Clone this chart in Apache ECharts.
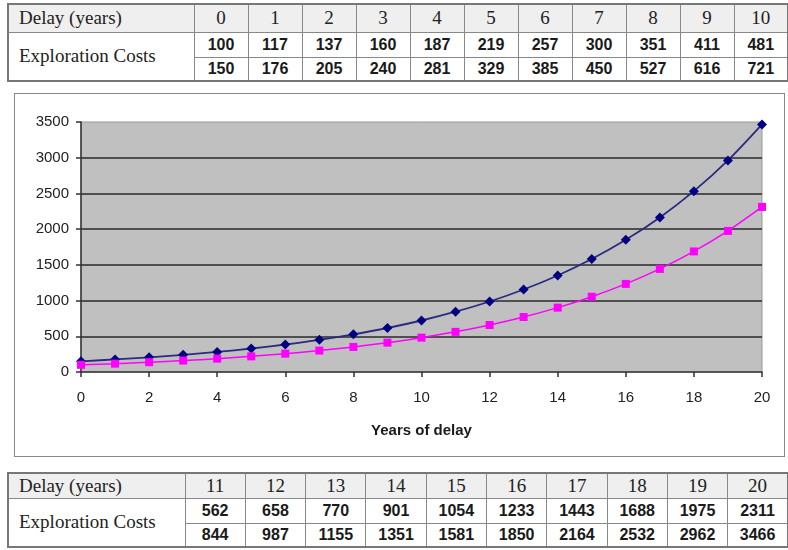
<!DOCTYPE html>
<html>
<head>
<meta charset="utf-8">
<script src="https://cdn.jsdelivr.net/npm/echarts@6/dist/echarts.min.js"></script>
<style>
  html, body { margin: 0; padding: 0; background: #fff; }
  body { width: 788px; height: 550px; position: relative; overflow: hidden; }
  table.costs {
    position: absolute; left: 7px; border-collapse: collapse; table-layout: fixed;
    border: 2px solid #777;
  }
  table.costs td {
    border: 1.5px solid #888; padding: 0; text-align: center;
    font-family: "Liberation Sans", Arial, sans-serif; font-weight: bold; font-size: 16px; color: #1a1a1a;
  }
  table.costs tr.head td {
    background: #efefef; font-family: "Liberation Serif", "Times New Roman", serif;
    font-weight: normal; font-size: 19px; color: #222;
  }
  table.costs td.lab {
    text-align: left; padding-left: 10px;
    font-family: "Liberation Serif", "Times New Roman", serif; font-weight: normal; font-size: 19px; color: #222;
  }
  #box { position: absolute; left: 14px; top: 93px; width: 769px; height: 362px; border: 1.5px solid #888; }
  #chart { width: 769px; height: 362px; }
</style>
</head>
<body>
<table class="costs" id="topTable" style="top:3px; width:780px;"></table>
<div id="box"><div id="chart"></div></div>
<table class="costs" id="bottomTable" style="top:472px; width:780px;"></table>
<script>
// Delay in years (x-axis categories / table headers)
const delayYears = [0, 1, 2, 3, 4, 5, 6, 7, 8, 9, 10, 11, 12, 13, 14, 15, 16, 17, 18, 19, 20];
// Exploration costs, lower scenario (magenta squares)
const costsLow = [100, 117, 137, 160, 187, 219, 257, 300, 351, 411, 481, 562, 658, 770, 901, 1054, 1233, 1443, 1688, 1975, 2311];
// Exploration costs, higher scenario (navy diamonds)
const costsHigh = [150, 176, 205, 240, 281, 329, 385, 450, 527, 616, 721, 844, 987, 1155, 1351, 1581, 1850, 2164, 2532, 2962, 3466];
// Axis tick settings
const yTicks = [0, 500, 1000, 1500, 2000, 2500, 3000, 3500];
const xTicks = [0, 2, 4, 6, 8, 10, 12, 14, 16, 18, 20];

function buildTable(id, from, to, firstW, colW, heights) {
  const t = document.getElementById(id);
  let html = '<colgroup><col style="width:' + firstW + 'px">';
  for (let i = from; i <= to; i++) html += '<col style="width:' + colW + 'px">';
  html += '</colgroup>';
  html += '<tr class="head" style="height:' + heights[0] + 'px"><td class="lab">Delay (years)</td>';
  for (let i = from; i <= to; i++) html += '<td>' + delayYears[i] + '</td>';
  html += '</tr><tr style="height:' + heights[1] + 'px"><td class="lab" rowspan="2">Exploration Costs</td>';
  for (let i = from; i <= to; i++) html += '<td>' + costsLow[i] + '</td>';
  html += '</tr><tr style="height:' + heights[2] + 'px">';
  for (let i = from; i <= to; i++) html += '<td>' + costsHigh[i] + '</td>';
  html += '</tr>';
  t.innerHTML = html;
}
buildTable('topTable', 0, 10, 186, 54, [28, 25, 24]);
buildTable('bottomTable', 11, 20, 177, 60.3, [25, 25, 24]);

const chart = echarts.init(document.getElementById('chart'), null, { renderer: 'canvas' });
const axisFont = { fontFamily: '"Liberation Sans", Arial, sans-serif', fontSize: 15, color: '#222' };
chart.setOption({
  animation: false,
  grid: {
    left: 66, top: 28, right: 22, bottom: 84,
    show: true, backgroundColor: '#c0c0c0', borderColor: '#999', borderWidth: 1
  },
  xAxis: {
    type: 'value', min: xTicks[0], max: xTicks[xTicks.length - 1], interval: 2,
    name: 'Years of delay', nameLocation: 'middle', nameGap: 51,
    nameTextStyle: { fontFamily: '"Liberation Sans", Arial, sans-serif', fontSize: 15, fontWeight: 'bold', color: '#1a1a1a' },
    axisLine: { show: true, onZero: false, lineStyle: { color: '#333', width: 1.5 } },
    axisTick: { show: true, inside: false, length: 5, lineStyle: { color: '#333', width: 1.5 } },
    axisLabel: Object.assign({ margin: 18 }, axisFont),
    splitLine: { show: false }
  },
  yAxis: {
    type: 'value', min: yTicks[0], max: yTicks[yTicks.length - 1], interval: 500,
    axisLine: { show: true, lineStyle: { color: '#333', width: 1.5 } },
    axisTick: { show: true, inside: false, length: 5, lineStyle: { color: '#333', width: 1.5 } },
    axisLabel: Object.assign({ margin: 12, formatter: v => String(v) }, axisFont),
    splitLine: { show: true, showMinLine: false, showMaxLine: false, lineStyle: { color: '#2a2a2a', width: 1.5 } }
  },
  series: [
    {
      type: 'line', smooth: 0.3,
      data: delayYears.map((d, i) => [d, costsHigh[i]]),
      symbol: 'diamond', symbolSize: 10,
      lineStyle: { color: '#2a2a80', width: 1.8 },
      itemStyle: { color: '#000080' }
    },
    {
      type: 'line', smooth: 0.3,
      data: delayYears.map((d, i) => [d, costsLow[i]]),
      symbol: 'rect', symbolSize: 8,
      lineStyle: { color: '#ff00ff', width: 1.5 },
      itemStyle: { color: '#ff00ff' }
    }
  ]
});
</script>
</body>
</html>
